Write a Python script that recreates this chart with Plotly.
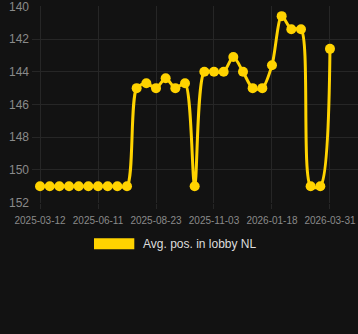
import plotly.graph_objects as go

positions = [151, 151, 151, 151, 151, 151, 151, 151, 151, 151,
             145.0, 144.7, 145.0, 144.4, 145.0, 144.7, 151.0, 144.0, 144.0, 144.0,
             143.1, 144.0, 145.0, 145.0, 143.6, 140.6, 141.4, 141.4, 151.0, 151.0,
             142.6]
tick_labels = ["2025-03-12", "2025-06-11", "2025-08-23", "2025-11-03", "2026-01-18", "2026-03-31"]
tick_every = 6
series_name = "Avg. pos. in lobby NL"

x = list(range(len(positions)))
tickvals = [i * tick_every for i in range(len(tick_labels))]

yellow = "#FFD300"
grid = "#262626"
W, H = 358, 334
ml, mr, mt, mb = 32, 0, 6, 131
pw, ph = W - ml - mr, H - mt - mb


def px_x(v):
    return (v - ml) / pw


def px_y(v):
    return (H - mb - v) / ph


fig = go.Figure()
fig.add_trace(go.Scatter(
    x=x, y=positions, mode="lines+markers", name=series_name,
    line=dict(color=yellow, width=3, shape="spline", smoothing=0.8),
    marker=dict(color=yellow, size=10),
    showlegend=False, hoverinfo="skip",
))
# legend (drawn manually to match the wide swatch)
fig.add_shape(type="rect", xref="paper", yref="paper",
              x0=px_x(94), x1=px_x(134.3), y0=px_y(249.3), y1=px_y(238.3),
              fillcolor=yellow, line=dict(width=0))
fig.add_annotation(xref="paper", yref="paper", x=px_x(140.5), y=px_y(244),
                   xanchor="left", yanchor="middle", showarrow=False,
                   text=series_name, font=dict(size=12, color="#dddddd"))
fig.update_layout(
    width=W, height=H,
    paper_bgcolor="#121212", plot_bgcolor="#121212",
    margin=dict(l=ml, r=mr, t=mt, b=mb),
    font=dict(family="Liberation Sans, Arial, sans-serif", color="#8a8a8a", size=11),
    xaxis=dict(range=[-0.83, 32.9], tickvals=tickvals, ticktext=tick_labels,
               showgrid=True, gridcolor=grid, zeroline=False, showline=False,
               ticks="outside", ticklen=5, tickcolor=grid, ticklabelstandoff=3,
               ticklabeloverflow="allow",
               tickfont=dict(size=10, color="#8a8a8a"), fixedrange=True),
    yaxis=dict(range=[152.02, 139.98], dtick=2, tick0=140, showgrid=True, gridcolor=grid,
               zeroline=False, showline=False, ticks="", ticklabelstandoff=2,
               ticklabeloverflow="allow",
               tickfont=dict(size=12, color="#8a8a8a"), fixedrange=True),
    showlegend=False,
)
fig.write_html("out.html")
